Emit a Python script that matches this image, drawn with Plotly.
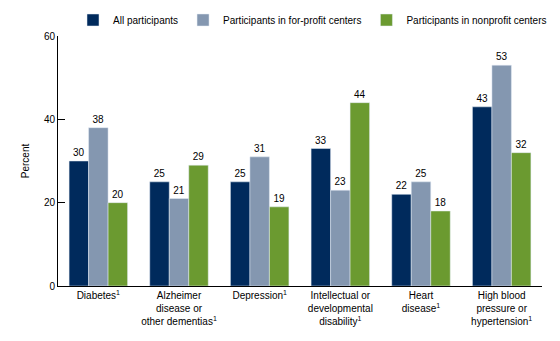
import plotly.graph_objects as go

categories = [
    "Diabetes<sup>1</sup>",
    "Alzheimer<br>disease or<br>other dementias<sup>1</sup>",
    "Depression<sup>1</sup>",
    "Intellectual or<br>developmental<br>disability<sup>1</sup>",
    "Heart<br>disease<sup>1</sup>",
    "High blood<br>pressure or<br>hypertension<sup>1</sup>",
]
all_participants = [30, 25, 25, 33, 22, 43]
for_profit = [38, 21, 31, 23, 25, 53]
nonprofit = [20, 29, 19, 44, 18, 32]

series = [
    ("All participants", all_participants, "#002a5c"),
    ("Participants in for-profit centers", for_profit, "#8497b0"),
    ("Participants in nonprofit centers", nonprofit, "#6b9a30"),
]

fig = go.Figure()
for name, vals, color in series:
    fig.add_trace(go.Bar(
        x=categories, y=vals, name=name, marker_color=color,
        text=[str(v) for v in vals], textposition="outside",
        textfont=dict(size=10, color="black"), cliponaxis=False,
    ))

fig.update_layout(
    width=560, height=341,
    margin=dict(l=58, r=18, t=36, b=55, autoexpand=False),
    paper_bgcolor="white", plot_bgcolor="white",
    font=dict(family="Liberation Sans, Arial, sans-serif", size=10, color="black"),
    barmode="group", bargap=0.275, bargroupgap=0,
    legend=dict(orientation="h", x=0.031, y=1.064, xanchor="left", yanchor="middle",
                font=dict(size=10), itemwidth=30, traceorder="normal",
                bgcolor="rgba(0,0,0,0)"),
    yaxis=dict(range=[0, 60], tickvals=[0, 20, 40, 60], showgrid=False,
               showline=True, linecolor="black", linewidth=1,
               ticks="inside", ticklen=7, tickcolor="black",
               title=dict(text="Percent", font=dict(size=10), standoff=12),
               zeroline=False),
    xaxis=dict(showline=True, linecolor="black", linewidth=1, ticks="",
               tickfont=dict(size=10)),
    showlegend=True,
)

fig.write_html("out.html")
